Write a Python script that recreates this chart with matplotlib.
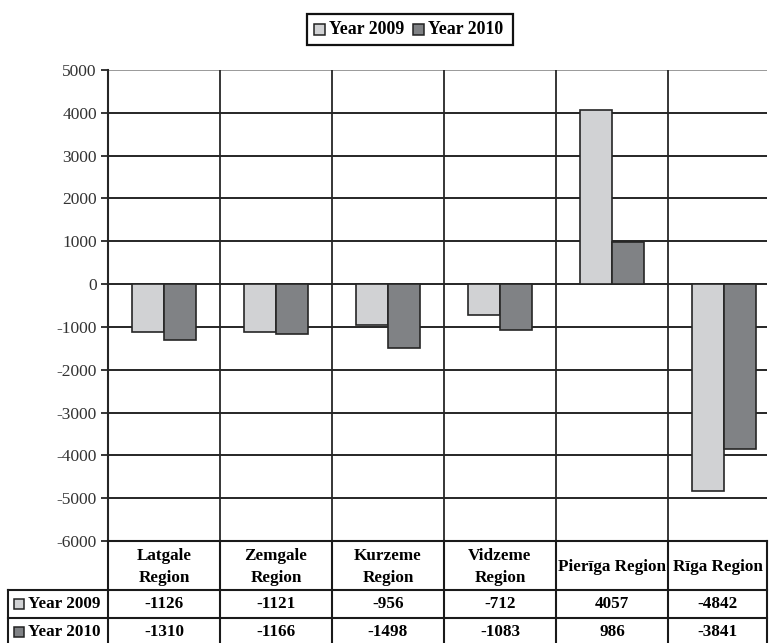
import numpy as np
import matplotlib
matplotlib.use("Agg")
import matplotlib.pyplot as plt
from matplotlib.patches import Rectangle

plt.rcParams['font.family'] = ['Liberation Serif', 'DejaVu Serif']

regions = ['Latgale\nRegion', 'Zemgale\nRegion', 'Kurzeme\nRegion',
           'Vidzeme\nRegion', 'Pierīga Region', 'Rīga Region']
series_names = ['Year 2009', 'Year 2010']
year_2009 = [-1126, -1121, -956, -712, 4057, -4842]
year_2010 = [-1310, -1166, -1498, -1083, 986, -3841]
yticks = list(range(-6000, 5001, 1000))

c09 = '#d1d2d4'
c10 = '#808285'
line_c = '#262626'

W, H = 769, 643
fig = plt.figure(figsize=(W / 100, H / 100), dpi=100)
fig.patch.set_facecolor('white')

# plot area in pixel terms: left 108, right 767, top 70, bottom 541
col_px = 112.0
left, right, top, bottom = 108, 767, 70, 541
ax = fig.add_axes([left / W, 1 - bottom / H, (right - left) / W, (bottom - top) / H])
ax.set_xlim(-0.5, -0.5 + (right - left) / col_px)
ax.set_ylim(-6000, 5000)

x = np.arange(len(regions))
bw = 0.285
ax.bar(x - bw / 2, year_2009, bw, color=c09, edgecolor=line_c, linewidth=1.2, zorder=3)
ax.bar(x + bw / 2, year_2010, bw, color=c10, edgecolor=line_c, linewidth=1.2, zorder=3)

for v in yticks:
    ax.axhline(v, color=line_c if v != 5000 else '#9a9a9a', lw=1.4, zorder=1)
for k in range(len(regions)):
    ax.axvline(k + 0.5, color=line_c, lw=1.3, zorder=1)

for s in ['top', 'right', 'bottom']:
    ax.spines[s].set_visible(False)
ax.spines['left'].set_color(line_c)
ax.spines['left'].set_linewidth(1.5)
ax.set_xticks([])
ax.set_yticks(yticks)
ax.set_yticklabels([str(v) for v in yticks], fontsize=12.5, color='#333333')
ax.tick_params(axis='y', length=5, width=1.3, color=line_c, pad=3)

# legend box at the top
leg = fig.add_axes([0, 0, 1, 1], facecolor='none')
leg.set_xlim(0, W)
leg.set_ylim(H, 0)
leg.axis('off')
leg.add_patch(Rectangle((307, 14), 206, 31, fill=False, ec='#111111', lw=1.6))
for i, (name, col) in enumerate(zip(series_names, [c09, c10])):
    x0 = 314 + i * 99
    leg.add_patch(Rectangle((x0, 24), 11, 11, fc=col, ec='#222222', lw=1.1))
    leg.text(x0 + 15, 30, name, fontsize=12.8, fontweight='bold', va='center', ha='left')

# data table under the plot
cols = [left + k * col_px for k in range(len(regions) + 1)]
cols[-1] = right
row_y = [541, 590, 618, 643]
table_left = 8
tl = dict(color='#1a1a1a', lw=1.5)
leg.plot([left, right], [row_y[0], row_y[0]], **tl)
for yy in row_y[1:3]:
    leg.plot([table_left, right], [yy, yy], **tl)
leg.plot([table_left, table_left], [row_y[1], H], **tl)
for cx in cols:
    leg.plot([cx, cx], [row_y[0], H], **tl)

for k, name in enumerate(regions):
    cx = (cols[k] + cols[k + 1]) / 2
    leg.text(cx, (row_y[0] + row_y[1]) / 2 + 1.5, name, fontsize=12.3, fontweight='bold',
             ha='center', va='center', linespacing=1.45)
    leg.text(cx, (row_y[1] + row_y[2]) / 2, str(year_2009[k]), fontsize=12.3,
             fontweight='bold', ha='center', va='center')
    leg.text(cx, (row_y[2] + row_y[3]) / 2 + 1, str(year_2010[k]), fontsize=12.3,
             fontweight='bold', ha='center', va='center')

for i, (name, col) in enumerate(zip(series_names, [c09, c10])):
    yc = (row_y[i + 1] + row_y[i + 2]) / 2 + (1 if i else 0)
    leg.add_patch(Rectangle((14, yc - 5), 10, 10, fc=col, ec='#222222', lw=1.1))
    leg.text(28, yc, name, fontsize=12.3, fontweight='bold', ha='left', va='center')

fig.savefig('out.png', dpi=100, facecolor='white')
